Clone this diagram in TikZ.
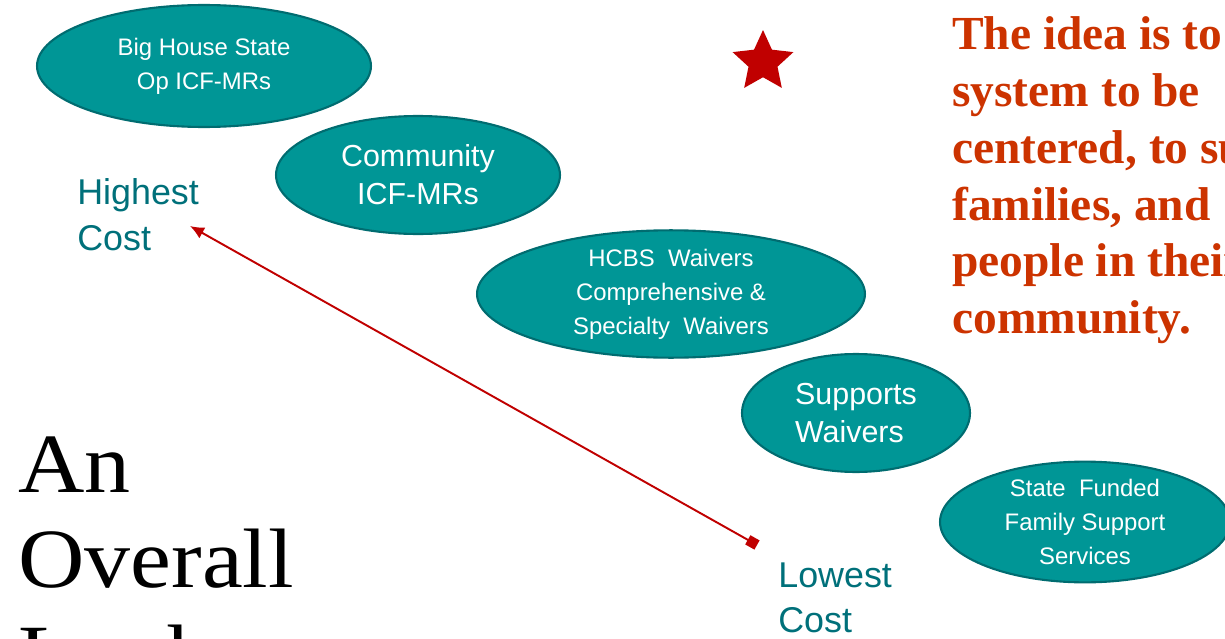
\documentclass[tikz,border=0pt]{standalone}
\usepackage{fontspec}
\setmainfont{Liberation Serif}
\newfontfamily\arialfont{Liberation Sans}
\usetikzlibrary{shapes.geometric,arrows.meta}
\tikzset{>=latex}

\definecolor{tealfill}{RGB}{0,150,150}
\definecolor{tealedge}{RGB}{0,108,112}
\definecolor{costteal}{RGB}{0,112,122}
\definecolor{ideared}{RGB}{204,51,0}
\definecolor{starred}{RGB}{192,0,0}

\tikzset{
    program/.style={ellipse, draw=tealedge, line width=1.2pt, fill=tealfill,
        text=white, inner sep=0pt, align=center},
    smalltext/.style={font=\arialfont\fontsize{13.6}{19.3}\selectfont},
    bigtext/.style={font=\arialfont\fontsize{17.3}{21.6}\selectfont},
    costlabel/.style={text=costteal, align=left, inner sep=0pt,
        font=\arialfont\fontsize{20.4}{26}\selectfont},
    costarrow/.style={starred, line width=1.1pt,
        {Square[length=6pt,width=6pt]}-{Latex[length=8pt,width=7pt]}}
}

\begin{document}
\begin{tikzpicture}[x=0.02cm,y=-0.02cm]

    \useasboundingbox (0,0) rectangle (1225,639);
    \clip (0,0) rectangle (1225,639);

    % the five programs, most to least costly
    \node[program, smalltext, minimum width=6.68cm, minimum height=2.44cm] (bighouse) at (204,66) {Big House State\\Op ICF-MRs};
    \node[program, bigtext, minimum width=5.68cm, minimum height=2.36cm] (community) at (418,175) {Community\\ICF-MRs};
    \node[program, smalltext, minimum width=7.76cm, minimum height=2.32cm] (hcbs) at (671,294) {HCBS\ \ Waivers\\Comprehensive \&\\Specialty\ \ Waivers};
    \node[program, bigtext, align=left, minimum width=4.56cm, minimum height=2.36cm] (supports) at (856,413) {Supports\\Waivers};
    \node[program, smalltext, minimum width=5.8cm, minimum height=2.4cm] (statefunded) at (1085,522) {State\ \ Funded\\Family Support\\Services};

    % cost scale
    \node[costlabel, anchor=west] (highest) at (77,215) {Highest\\Cost};
    \node[costlabel, anchor=west] (lowest) at (778,598) {Lowest\\Cost};
    \coordinate (lowend) at (757,545);
    \coordinate (highend) at (190,226);
    \draw[costarrow] (lowend) -- (highend);

    \node[star, star points=5, star point ratio=2.1, fill=starred, inner sep=0pt,
        minimum size=1.28cm] (star) at (763,62) {};

    \node[anchor=north west, inner sep=0pt, align=left, text=ideared,
        font=\bfseries\fontsize{27}{32.4}\selectfont] (idea) at (952,16)
        {The idea is to\\system to be\\centered, to su\\families, and\\people in their\\community.};

    \node[anchor=north west, inner sep=0pt, align=left, xscale=1.09,
        font=\fontsize{48}{54.4}\selectfont] (title) at (18,436)
        {An\\Overall\\Look};

\end{tikzpicture}
\end{document}
